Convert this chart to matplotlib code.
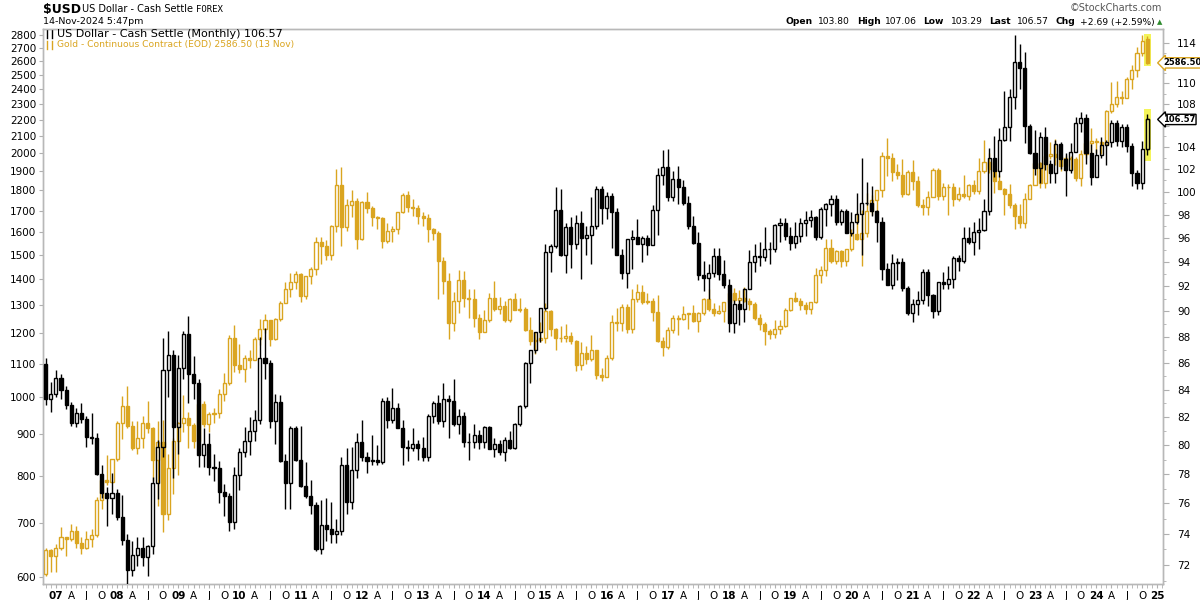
import matplotlib
matplotlib.use("Agg")
import matplotlib.pyplot as plt
import matplotlib.transforms as mtransforms
from matplotlib.patches import Rectangle
from matplotlib.lines import Line2D
from matplotlib.ticker import FixedLocator, FixedFormatter, NullLocator, NullFormatter
import numpy as np
import pandas as pd

# monthly candles, Nov 2006 .. Nov 2024
months = pd.date_range("2006-11-01", "2024-11-01", freq="MS")

usd_open = [
    85.9, 83.3,
    83.7, 84.9, 84.0, 82.9, 81.6, 82.3, 81.9, 80.6, 80.5, 78.0, 76.7, 76.4,
    76.7, 75.1, 73.6, 71.7, 72.6, 73.1, 72.5, 73.2, 77.4, 79.9, 85.5, 86.6,
    81.3, 85.6, 88.2, 85.2, 84.5, 79.3, 80.1, 78.5, 78.4, 76.8, 76.5, 74.8,
    77.9, 79.5, 80.3, 81.0, 81.8, 86.4, 86.0, 81.7, 83.1, 78.9, 77.4, 81.2,
    79.0, 77.2, 76.5, 75.9, 73.0, 74.6, 74.3, 74.0, 74.2, 78.6, 76.1, 78.3,
    80.2, 79.2, 78.9, 79.0, 78.8, 83.2, 81.8, 82.7, 81.2, 79.9, 79.8, 80.1,
    79.8, 79.2, 82.1, 83.0, 81.7, 83.3, 83.2, 81.5, 82.1, 80.2, 80.2, 80.7,
    80.2, 81.3, 79.7, 80.1, 79.5, 80.4, 79.8, 81.5, 82.8, 86.0, 87.0, 88.4,
    90.3, 94.8, 95.3, 98.4, 94.6, 96.9, 95.5, 97.3, 96.0, 96.3, 97.0, 100.2,
    98.6, 99.6, 98.2, 94.6, 93.1, 95.9, 96.1, 95.5, 96.0, 95.4, 98.4, 101.5,
    102.2, 99.5, 101.1, 100.4, 99.0, 97.0, 95.6, 92.9, 92.7, 93.1, 94.5, 93.0,
    92.1, 89.1, 90.6, 90.2, 91.8, 94.0, 94.5, 94.4, 95.1, 95.1, 97.1, 97.3,
    96.2, 95.6, 96.2, 97.3, 97.5, 97.8, 96.1, 98.5, 98.9, 99.4, 97.4, 98.3,
    96.4, 97.4, 98.1, 99.0, 99.0, 98.3, 97.4, 93.4, 92.1, 93.9, 94.0, 91.9,
    89.9, 90.6, 90.9, 93.2, 91.3, 90.0, 92.4, 92.2, 92.6, 94.3, 94.1, 96.0,
    95.7, 96.5, 96.7, 98.3, 103.0, 101.8, 104.7, 105.9, 108.7, 112.1, 111.5, 106.0,
    103.5, 102.1, 104.9, 102.5, 101.7, 104.3, 102.9, 101.9, 103.6, 106.2, 106.7, 103.5,
    101.3, 103.3, 104.2, 104.5, 106.2, 104.6, 105.9, 104.1, 101.7, 100.8, 103.80,
]
usd_high = [
    86.4, 84.6,
    85.5, 85.2, 84.3, 83.1, 82.7, 83.0, 82.1, 82.3, 80.9, 78.6, 77.1, 78.1,
    77.0, 76.6, 74.0, 73.5, 73.8, 73.8, 73.3, 77.8, 80.4, 87.9, 88.5, 87.0,
    86.6, 88.5, 89.6, 86.5, 84.8, 81.2, 80.9, 79.4, 78.9, 77.3, 76.7, 78.5,
    79.8, 81.3, 82.0, 82.5, 88.0, 88.7, 86.2, 83.7, 83.6, 79.4, 81.4, 81.4,
    81.4, 78.8, 77.6, 76.1, 76.2, 76.4, 76.1, 75.0, 79.2, 79.8, 79.9, 80.9,
    81.8, 79.5, 80.7, 80.0, 83.4, 83.5, 84.1, 83.0, 81.8, 80.4, 81.2, 80.4,
    80.6, 82.2, 83.2, 83.6, 84.5, 83.6, 84.8, 82.6, 82.4, 80.9, 81.5, 81.1,
    81.4, 81.4, 80.5, 80.4, 80.6, 81.0, 81.6, 82.9, 86.1, 87.0, 88.4, 90.3,
    95.5, 95.5, 100.4, 100.2, 97.3, 97.8, 98.0, 98.3, 97.0, 99.5, 100.5, 100.5,
    100.0, 99.9, 98.6, 95.1, 95.9, 96.7, 97.6, 96.2, 96.3, 98.8, 102.1, 103.7,
    103.8, 101.8, 102.3, 101.0, 99.6, 97.9, 96.5, 94.1, 93.8, 95.2, 95.2, 94.2,
    92.6, 90.9, 90.9, 91.9, 95.0, 95.5, 95.7, 96.9, 95.7, 97.2, 97.7, 97.7,
    96.9, 97.4, 97.7, 98.3, 98.4, 97.9, 98.7, 99.0, 99.7, 99.7, 98.5, 98.5,
    98.2, 99.9, 103.0, 100.9, 100.5, 98.4, 97.8, 93.9, 94.7, 94.3, 94.3, 92.0,
    91.0, 91.6, 93.4, 93.4, 91.4, 92.4, 93.2, 93.7, 94.5, 94.6, 96.9, 96.9,
    97.4, 97.7, 99.4, 103.9, 105.0, 105.8, 109.3, 109.5, 114.8, 113.9, 113.1, 106.1,
    105.6, 105.4, 105.9, 102.8, 104.7, 104.5, 103.5, 104.4, 106.8, 107.3, 107.1, 104.3,
    103.8, 104.9, 104.7, 106.5, 106.5, 106.1, 106.1, 104.4, 101.9, 104.6, 107.06,
]
usd_low = [
    82.9, 82.4,
    83.5, 83.3, 82.6, 81.4, 81.3, 81.6, 79.9, 80.1, 77.9, 76.4, 74.5, 75.3,
    74.9, 73.3, 70.7, 71.3, 71.9, 71.9, 71.3, 72.7, 76.3, 79.2, 83.5, 77.7,
    79.4, 84.8, 83.0, 83.3, 78.5, 78.5, 77.9, 77.5, 76.0, 75.2, 74.2, 74.3,
    76.9, 79.2, 79.3, 80.3, 81.5, 84.8, 81.2, 80.1, 78.8, 75.6, 75.6, 78.9,
    77.1, 76.4, 75.3, 72.9, 72.7, 73.5, 73.4, 73.4, 73.9, 75.3, 75.6, 77.7,
    78.9, 78.1, 78.6, 78.6, 78.7, 81.2, 81.6, 81.2, 78.6, 78.9, 79.6, 79.0,
    78.9, 78.9, 81.6, 81.5, 81.3, 80.5, 81.4, 80.8, 79.9, 79.0, 79.8, 79.7,
    79.8, 79.7, 79.2, 79.3, 78.9, 79.7, 79.7, 81.4, 82.7, 84.5, 86.8, 87.6,
    90.1, 93.2, 95.2, 94.5, 93.1, 93.5, 95.1, 92.6, 94.6, 93.8, 96.8, 97.2,
    97.6, 95.2, 94.6, 92.6, 91.9, 93.4, 95.5, 94.0, 94.6, 95.4, 96.3, 100.6,
    99.2, 99.2, 98.9, 98.8, 96.8, 95.5, 92.5, 91.6, 91.0, 92.8, 92.5, 91.9,
    88.4, 88.3, 88.9, 89.2, 91.8, 93.2, 93.7, 94.1, 93.8, 94.8, 95.7, 95.8,
    95.0, 95.2, 95.7, 96.2, 96.9, 95.8, 95.9, 97.0, 97.9, 97.1, 97.1, 96.4,
    96.2, 97.2, 94.6, 98.8, 97.9, 95.7, 92.5, 92.1, 91.8, 92.5, 91.6, 89.7,
    89.2, 89.7, 90.6, 90.4, 89.5, 89.7, 91.8, 91.8, 91.9, 93.3, 93.9, 95.5,
    94.6, 95.1, 96.6, 98.0, 101.3, 101.3, 104.6, 104.6, 107.6, 109.5, 104.4, 103.4,
    101.5, 100.8, 101.9, 100.8, 100.8, 102.0, 99.6, 101.7, 103.6, 105.4, 102.5, 100.6,
    101.3, 103.0, 102.4, 104.0, 104.1, 104.0, 103.6, 100.5, 100.2, 100.2, 103.29,
]
usd_close = [
    83.3, 83.7,
    84.9, 84.0, 82.9, 81.6, 82.3, 81.9, 80.6, 80.5, 78.0, 76.7, 76.4, 76.7,
    75.1, 73.6, 71.7, 72.6, 73.1, 72.5, 73.2, 77.4, 79.9, 85.5, 86.6, 81.3,
    85.6, 88.2, 85.2, 84.5, 79.3, 80.1, 78.5, 78.4, 76.8, 76.5, 74.8, 77.9,
    79.5, 80.3, 81.0, 81.8, 86.4, 86.0, 81.7, 83.1, 78.9, 77.4, 81.2, 79.0,
    77.2, 76.5, 75.9, 73.0, 74.6, 74.3, 74.0, 74.2, 78.6, 76.1, 78.3, 80.2,
    79.2, 78.9, 79.0, 78.8, 83.2, 81.8, 82.7, 81.2, 79.9, 79.8, 80.1, 79.8,
    79.2, 82.1, 83.0, 81.7, 83.3, 83.2, 81.5, 82.1, 80.2, 80.2, 80.7, 80.2,
    81.3, 79.7, 80.1, 79.5, 80.4, 79.8, 81.5, 82.8, 86.0, 87.0, 88.4, 90.3,
    94.8, 95.3, 98.4, 94.6, 96.9, 95.5, 97.3, 96.0, 96.3, 97.0, 100.2, 98.6,
    99.6, 98.2, 94.6, 93.1, 95.9, 96.1, 95.5, 96.0, 95.4, 98.4, 101.5, 102.2,
    99.5, 101.1, 100.4, 99.0, 97.0, 95.6, 92.9, 92.7, 93.1, 94.5, 93.0, 92.1,
    89.1, 90.6, 90.2, 91.8, 94.0, 94.5, 94.4, 95.1, 95.1, 97.1, 97.3, 96.2,
    95.6, 96.2, 97.3, 97.5, 97.8, 96.1, 98.5, 98.9, 99.4, 97.4, 98.3, 96.4,
    97.4, 98.1, 99.0, 99.0, 98.3, 97.4, 93.4, 92.1, 93.9, 94.0, 91.9, 89.9,
    90.6, 90.9, 93.2, 91.3, 90.0, 92.4, 92.2, 92.6, 94.3, 94.1, 96.0, 95.7,
    96.5, 96.7, 98.3, 103.0, 101.8, 104.7, 105.9, 108.7, 112.1, 111.5, 106.0, 103.5,
    102.1, 104.9, 102.5, 101.7, 104.3, 102.9, 101.9, 103.6, 106.2, 106.7, 103.5, 101.3,
    103.3, 104.2, 104.5, 106.2, 104.6, 105.9, 104.1, 101.7, 100.8, 103.8, 106.57,
]

gold_open = [
    605, 648,
    636, 652, 672, 669, 683, 661, 652, 669, 676, 746, 791, 786,
    838, 928, 975, 921, 866, 890, 930, 915, 836, 880, 718, 818,
    884, 928, 942, 923, 884, 980, 927, 954, 955, 1009, 1040, 1182,
    1096, 1083, 1118, 1113, 1180, 1214, 1245, 1181, 1248, 1308, 1359, 1386,
    1421, 1333, 1410, 1439, 1556, 1536, 1500, 1628, 1826, 1620, 1725, 1746,
    1566, 1740, 1711, 1669, 1664, 1561, 1604, 1614, 1692, 1775, 1718, 1714,
    1676, 1663, 1611, 1595, 1472, 1393, 1234, 1313, 1396, 1327, 1323, 1251,
    1202, 1244, 1326, 1284, 1296, 1246, 1322, 1282, 1286, 1211, 1172, 1175,
    1184, 1279, 1213, 1183, 1183, 1190, 1172, 1095, 1133, 1115, 1142, 1065,
    1060, 1118, 1238, 1234, 1292, 1215, 1322, 1350, 1309, 1316, 1274, 1173,
    1152, 1211, 1253, 1249, 1268, 1270, 1242, 1270, 1322, 1284, 1271, 1276,
    1309, 1345, 1318, 1327, 1316, 1305, 1253, 1233, 1206, 1196, 1215, 1226,
    1283, 1325, 1316, 1298, 1286, 1311, 1414, 1437, 1529, 1472, 1514, 1473,
    1523, 1588, 1566, 1597, 1700, 1751, 1800, 1986, 1976, 1896, 1879, 1781,
    1895, 1850, 1729, 1716, 1769, 1907, 1771, 1817, 1818, 1757, 1784, 1774,
    1829, 1796, 1900, 1954, 1911, 1848, 1807, 1782, 1726, 1672, 1640, 1759,
    1826, 1945, 1837, 1986, 1999, 1982, 1929, 1971, 1966, 1866, 1996, 2057,
    2072, 2067, 2054, 2254, 2303, 2346, 2339, 2473, 2536, 2660, 2765,
]
gold_high = [
    652, 650,
    659, 691, 673, 697, 693, 673, 683, 687, 752, 795, 848, 840,
    935, 1002, 1033, 935, 935, 948, 988, 920, 934, 936, 850, 890,
    933, 1006, 960, 928, 985, 990, 960, 969, 1025, 1072, 1195, 1227,
    1163, 1128, 1145, 1185, 1249, 1265, 1247, 1252, 1315, 1388, 1425, 1432,
    1424, 1413, 1447, 1575, 1577, 1562, 1632, 1911, 1923, 1756, 1804, 1763,
    1745, 1792, 1720, 1676, 1669, 1642, 1628, 1693, 1788, 1798, 1755, 1726,
    1695, 1683, 1617, 1606, 1488, 1424, 1348, 1434, 1433, 1362, 1361, 1268,
    1280, 1345, 1392, 1331, 1316, 1326, 1346, 1324, 1294, 1256, 1205, 1240,
    1307, 1281, 1219, 1225, 1232, 1205, 1175, 1170, 1157, 1192, 1143, 1088,
    1128, 1263, 1287, 1305, 1304, 1362, 1378, 1375, 1344, 1326, 1338, 1185,
    1220, 1264, 1264, 1296, 1272, 1298, 1274, 1325, 1362, 1306, 1299, 1311,
    1366, 1364, 1356, 1369, 1326, 1309, 1266, 1237, 1215, 1247, 1245, 1287,
    1327, 1349, 1327, 1311, 1312, 1443, 1453, 1566, 1566, 1519, 1519, 1526,
    1611, 1691, 1704, 1788, 1775, 1802, 2005, 2089, 2000, 1942, 1966, 1906,
    1963, 1876, 1756, 1798, 1916, 1919, 1836, 1834, 1836, 1815, 1879, 1831,
    1853, 1976, 2079, 2003, 1917, 1880, 1814, 1832, 1735, 1730, 1786, 1833,
    1959, 1950, 2016, 2064, 2085, 1985, 1988, 1987, 1977, 2019, 2089, 2152,
    2088, 2074, 2265, 2448, 2454, 2388, 2484, 2570, 2708, 2801, 2790,
]
gold_low = [
    602, 608,
    608, 648, 637, 665, 652, 640, 650, 653, 673, 728, 779, 784,
    834, 887, 915, 860, 852, 865, 904, 787, 735, 682, 705, 760,
    801, 905, 865, 866, 878, 918, 907, 930, 943, 989, 1034, 1075,
    1072, 1045, 1088, 1110, 1161, 1201, 1157, 1175, 1242, 1308, 1330, 1361,
    1309, 1323, 1380, 1417, 1462, 1478, 1478, 1600, 1535, 1603, 1670, 1523,
    1562, 1690, 1627, 1614, 1527, 1550, 1555, 1591, 1687, 1692, 1674, 1635,
    1626, 1555, 1562, 1322, 1339, 1180, 1208, 1271, 1292, 1251, 1221, 1181,
    1202, 1238, 1277, 1268, 1240, 1240, 1281, 1273, 1206, 1160, 1130, 1170,
    1167, 1191, 1142, 1170, 1170, 1162, 1077, 1080, 1099, 1107, 1052, 1046,
    1060, 1112, 1206, 1206, 1200, 1200, 1310, 1302, 1305, 1241, 1171, 1123,
    1146, 1200, 1195, 1244, 1214, 1237, 1205, 1262, 1276, 1261, 1265, 1237,
    1305, 1307, 1303, 1312, 1282, 1245, 1211, 1161, 1180, 1182, 1196, 1221,
    1278, 1312, 1281, 1267, 1266, 1307, 1382, 1412, 1465, 1459, 1446, 1454,
    1517, 1563, 1451, 1576, 1680, 1671, 1765, 1874, 1849, 1860, 1765, 1776,
    1803, 1717, 1677, 1679, 1766, 1750, 1751, 1678, 1721, 1746, 1762, 1753,
    1781, 1780, 1890, 1890, 1787, 1805, 1678, 1710, 1615, 1617, 1618, 1757,
    1826, 1810, 1812, 1970, 1934, 1900, 1903, 1904, 1849, 1823, 1973, 1992,
    2002, 1996, 2045, 2240, 2280, 2304, 2338, 2400, 2485, 2640, 2580,
]
gold_close = [
    648, 636,
    652, 672, 669, 683, 661, 652, 669, 676, 746, 791, 786, 838,
    928, 975, 921, 866, 890, 930, 915, 836, 880, 718, 818, 884,
    928, 942, 923, 884, 980, 927, 954, 955, 1009, 1040, 1182, 1096,
    1083, 1118, 1113, 1180, 1214, 1245, 1181, 1248, 1308, 1359, 1386, 1421,
    1333, 1410, 1439, 1556, 1536, 1500, 1628, 1826, 1620, 1725, 1746, 1566,
    1740, 1711, 1669, 1664, 1561, 1604, 1614, 1692, 1775, 1718, 1714, 1676,
    1663, 1611, 1595, 1472, 1393, 1234, 1313, 1396, 1327, 1323, 1251, 1202,
    1244, 1326, 1284, 1296, 1246, 1322, 1282, 1286, 1211, 1172, 1175, 1184,
    1279, 1213, 1183, 1183, 1190, 1172, 1095, 1133, 1115, 1142, 1065, 1060,
    1118, 1238, 1234, 1292, 1215, 1322, 1350, 1309, 1316, 1274, 1173, 1152,
    1211, 1253, 1249, 1268, 1270, 1242, 1270, 1322, 1284, 1271, 1276, 1309,
    1345, 1318, 1327, 1316, 1305, 1253, 1233, 1206, 1196, 1215, 1226, 1283,
    1325, 1316, 1298, 1286, 1311, 1414, 1437, 1529, 1472, 1514, 1473, 1523,
    1588, 1566, 1597, 1700, 1751, 1800, 1986, 1976, 1896, 1879, 1781, 1895,
    1850, 1729, 1716, 1769, 1907, 1771, 1817, 1818, 1757, 1784, 1774, 1829,
    1796, 1900, 1954, 1911, 1848, 1807, 1782, 1726, 1672, 1640, 1759, 1826,
    1945, 1837, 1986, 1999, 1982, 1929, 1971, 1966, 1866, 1996, 2057, 2072,
    2067, 2054, 2254, 2303, 2346, 2339, 2473, 2536, 2660, 2749, 2586.5,
]

gold_ticks = [600, 700, 800, 900, 1000, 1100, 1200, 1300, 1400, 1500, 1600, 1700, 1800,
              1900, 2000, 2100, 2200, 2300, 2400, 2500, 2600, 2700, 2800]
usd_ticks = list(range(72, 115, 2))
usd_hidden = [106, 112]   # covered by the value tags in the original

GOLD = "#DAA520"
W, H = 1200, 600


def candles(ax, o, h, l, c, color, z):
    o, h, l, c = map(np.asarray, (o, h, l, c))
    x = np.arange(len(o))
    top = np.maximum(o, c)
    bot = np.minimum(o, c)
    ax.vlines(x, top, h, color=color, lw=1.0, zorder=z)
    ax.vlines(x, l, bot, color=color, lw=1.0, zorder=z)
    faces = ["none" if cc >= oo else color for oo, cc in zip(o, c)]
    ax.bar(x, top - bot, bottom=bot, width=0.6, facecolor=faces,
           edgecolor=color, linewidth=1.0, zorder=z)


fig = plt.figure(figsize=(12, 6), dpi=100, facecolor="white")
ax = fig.add_axes([43 / W, 1 - 584 / H, 1120 / W, 555 / H])
ax2 = ax.twinx()
ax.set_zorder(1)
ax2.set_zorder(2)
ax2.patch.set_visible(False)

ax.set_yscale("log")
ax2.set_yscale("log")

n = len(months)
last = n - 1

# highlight behind the latest candles
ax.add_patch(Rectangle((last - 0.65, gold_low[-1] * 0.994), 1.3,
                       gold_high[-1] * 1.006 - gold_low[-1] * 0.994,
                       facecolor="#f4f45a", edgecolor="none", zorder=1))
ax2.add_patch(Rectangle((last - 0.65, usd_low[-1] * 0.995), 1.3,
                        usd_high[-1] * 1.005 - usd_low[-1] * 0.995,
                        facecolor="#f4f45a", edgecolor="none", zorder=1))

candles(ax, gold_open, gold_high, gold_low, gold_close, GOLD, 3)
candles(ax2, usd_open, usd_high, usd_low, usd_close, "black", 3)
# latest dollar candle body filled yellow
ax2.bar([last], [usd_close[-1] - usd_open[-1]], bottom=[usd_open[-1]], width=0.6,
        facecolor="#ffff8c", edgecolor="black", linewidth=1.0, zorder=4)

ax.set_xlim(-0.53, 219.1)
ax.set_ylim(588, 2848)
ax2.set_ylim(70.8, 115.4)

ax.yaxis.set_major_locator(FixedLocator(gold_ticks))
ax.yaxis.set_major_formatter(FixedFormatter([str(v) for v in gold_ticks]))
ax.yaxis.set_minor_locator(NullLocator())
ax2.yaxis.set_major_locator(FixedLocator(usd_ticks))
ax2.yaxis.set_major_formatter(FixedFormatter(["" if v in usd_hidden else str(v) for v in usd_ticks]))
ax2.yaxis.set_minor_locator(FixedLocator(list(range(71, 115, 2))))
ax2.yaxis.set_minor_formatter(NullFormatter())

# x axis: quarters labelled, every month ticked
qpos, qlab = [], []
for i, m in enumerate(months):
    if m.month == 1:
        qpos.append(i); qlab.append(m.strftime("%y"))
    elif m.month in (4, 7, 10):
        qpos.append(i); qlab.append({4: "A", 7: "J", 10: "O"}[m.month])
qpos.append(n + 1); qlab.append("25")
ax.xaxis.set_major_locator(FixedLocator(qpos))
ax.xaxis.set_major_formatter(FixedFormatter(qlab))
ax.xaxis.set_minor_locator(FixedLocator(list(range(0, n + 3))))
for t, s in zip(ax.get_xticklabels(), qlab):
    if s.isdigit():
        t.set_fontweight("bold")
        t.set_fontsize(8)

ax.tick_params(axis="x", which="both", length=3, color="#b0b0b0", labelsize=7.5, pad=2)
ax.tick_params(axis="y", which="major", length=3, color="#b0b0b0", labelsize=7.5, pad=2)
ax2.tick_params(axis="y", which="major", length=4, color="#b0b0b0", labelsize=7.5, pad=6)
ax2.tick_params(axis="y", which="minor", length=2, color="#b0b0b0")
for a in (ax, ax2):
    for sp in a.spines.values():
        sp.set_color("#b8b8b8")
        sp.set_linewidth(1.0)


def fx(px):
    return px / W


def fy(py):
    return 1 - py / H


# header
fig.text(fx(43), fy(9), "$USD", fontsize=9, fontweight="bold", va="center")
fig.text(fx(82), fy(9), "US Dollar - Cash Settle", fontsize=7, va="center")
fig.text(fx(196), fy(9), "FOREX", fontsize=6.5, va="center", family="DejaVu Sans Mono")
fig.text(fx(43), fy(22), "14-Nov-2024 5:47pm", fontsize=6.8, va="center")
fig.text(fx(1162), fy(8), "\u00a9StockCharts.com", fontsize=7, va="center",
         ha="right", color="#555555")

quote = [("Open", True, 786), ("103.80", False, 818), ("High", True, 857),
         ("107.06", False, 885), ("Low", True, 923), ("103.29", False, 951),
         ("Last", True, 989), ("106.57", False, 1017), ("Chg", True, 1055),
         ("+2.69 (+2.59%)", False, 1080)]
for s, b, px in quote:
    fig.text(fx(px), fy(22), s, fontsize=6.6, va="center",
             fontweight="bold" if b else "normal")
fig.text(fx(1160), fy(22), "\u25b2", fontsize=5, va="center", ha="center", color="#2e8b2e")

# legend lines inside the plot
fig.text(fx(57), fy(34), "US Dollar - Cash Settle (Monthly) 106.57", fontsize=8, va="center")
fig.text(fx(57), fy(45), "Gold - Continuous Contract (EOD) 2586.50 (13 Nov)", fontsize=6.6,
         va="center", color=GOLD)
for py, col in ((34, "black"), (45, GOLD)):
    fig.add_artist(Line2D([fx(47), fx(47)], [fy(py - 4), fy(py + 4)], color=col, lw=1))
    fig.add_artist(Line2D([fx(52), fx(52)], [fy(py - 4), fy(py + 4)], color=col, lw=1))
    fig.add_artist(Rectangle((fx(46), fy(py + 2)), 2 / W, 4 / H, facecolor=col,
                             edgecolor=col, lw=0.8))
    fig.add_artist(Rectangle((fx(51), fy(py + 2)), 2 / W, 4 / H, facecolor="white",
                             edgecolor=col, lw=0.8))

# last value tags on the right edge
tr_g = mtransforms.blended_transform_factory(fig.transFigure, ax.transData)
tr_u = mtransforms.blended_transform_factory(fig.transFigure, ax2.transData)
fig.text(fx(1163), gold_close[-1], "2586.50", transform=tr_g, fontsize=6.0,
         fontweight="bold", va="center", ha="left", zorder=10,
         bbox=dict(boxstyle="larrow,pad=0.08", facecolor="white", edgecolor=GOLD, lw=1))
fig.text(fx(1163), usd_close[-1], "106.57", transform=tr_u, fontsize=6.0,
         fontweight="bold", va="center", ha="left", zorder=10,
         bbox=dict(boxstyle="larrow,pad=0.08", facecolor="white", edgecolor="black", lw=1))

fig.savefig("out.png", dpi=100, facecolor="white")
